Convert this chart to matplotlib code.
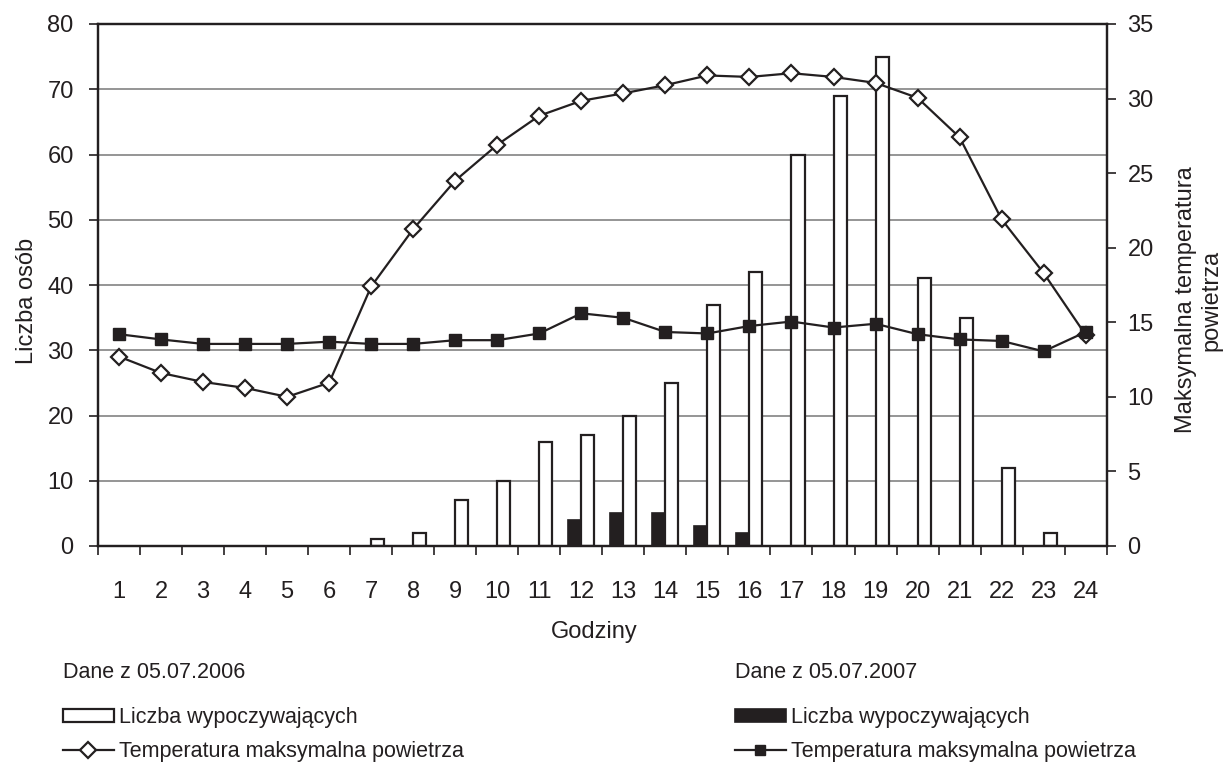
import numpy as np
import matplotlib
matplotlib.use("Agg")
import matplotlib.pyplot as plt
from matplotlib.patches import Patch
from matplotlib.lines import Line2D

plt.rcParams['font.family'] = ['Liberation Sans', 'DejaVu Sans']

hours = list(range(1, 25))
# liczba wypoczywajacych (lewa os)
people_2006 = [0, 0, 0, 0, 0, 0, 1, 2, 7, 10, 16, 17, 20, 25, 37, 42, 60, 69, 75, 41, 35, 12, 2, 0]
people_2007 = [0, 0, 0, 0, 0, 0, 0, 0, 0, 0, 0, 4, 5, 5, 3, 2, 0, 0, 0, 0, 0, 0, 0, 0]
# temperatura maksymalna (prawa os)
temp_2006 = [12.7, 11.6, 11.0, 10.6, 10.0, 10.95, 17.4, 21.25, 24.5, 26.9, 28.85, 29.85,
             30.35, 30.9, 31.55, 31.45, 31.7, 31.45, 31.05, 30.05, 27.4, 21.9, 18.3, 14.15]
temp_2007 = [14.2, 13.85, 13.55, 13.55, 13.55, 13.7, 13.55, 13.55, 13.8, 13.8, 14.25, 15.6,
             15.3, 14.35, 14.25, 14.75, 15.05, 14.65, 14.9, 14.2, 13.85, 13.75, 13.05, 14.35]

left_ticks = [0, 10, 20, 30, 40, 50, 60, 70, 80]
right_ticks = [0, 5, 10, 15, 20, 25, 30, 35]

dark = '#231f20'
fs = 17

fig = plt.figure(figsize=(12.27, 7.67), dpi=100)
ax = fig.add_axes([98/1227, 1 - 546/767, (1106.7 - 98)/1227, (546 - 24)/767])

x = np.array(hours)
w = 0.31
# zero values are not drawn (no bar in the original)
p06 = np.array(people_2006, dtype=float)
p07 = np.array(people_2007, dtype=float)
p06[p06 == 0] = np.nan
p07[p07 == 0] = np.nan
ax.bar(x - w/2, p07, width=w, color=dark, edgecolor=dark, linewidth=1.2, zorder=2)
ax.bar(x + w/2, p06, width=w, color='white', edgecolor=dark, linewidth=1.6, zorder=2)

ax.set_xlim(0.5, 24.5)
ax.set_ylim(0, 80)
ax.set_yticks(left_ticks)
ax.yaxis.grid(True, color='#8c8c8c', linewidth=1.3)
ax.set_axisbelow(True)
ax.set_xticks(hours)
ax.set_xticks(np.arange(0.5, 25, 1), minor=True)
ax.tick_params(axis='x', which='major', length=0, pad=25, labelsize=fs, colors=dark)
ax.tick_params(axis='x', which='minor', length=6.5, width=1.2, color=dark)
ax.tick_params(axis='y', length=6.5, width=1.2, pad=11, labelsize=fs, colors=dark)
for s in ax.spines.values():
    s.set_linewidth(1.6)
    s.set_color(dark)

ax2 = ax.twinx()
ax2.plot(x, temp_2006, color=dark, linewidth=1.6, marker='D', markersize=8.5,
         markerfacecolor='white', markeredgecolor=dark, markeredgewidth=1.6, zorder=3)
ax2.plot(x, temp_2007, color=dark, linewidth=1.6, marker='s', markersize=8.5,
         markerfacecolor=dark, markeredgecolor=dark, zorder=4)
ax2.set_ylim(0, 35)
ax2.set_yticks(right_ticks)
ax2.tick_params(axis='y', length=6.5, width=1.2, pad=8.5, labelsize=fs, colors=dark)
for s in ax2.spines.values():
    s.set_linewidth(1.6)
    s.set_color(dark)

fig.text(27/1227, 1 - 301/767, 'Liczba osób', rotation=90, ha='center', va='center',
         fontsize=fs, color=dark)
fig.text(1199/1227, 1 - 300/767, 'Maksymalna temperatura\npowietrza', rotation=90,
         ha='center', va='center', multialignment='center', fontsize=fs, color=dark)
fig.text(594/1227, 1 - 632/767, 'Godziny', ha='center', va='center', fontsize=fs, color=dark)

# legenda
lfs = 15.5
fig.text(63/1227, 1 - 672/767, 'Dane z 05.07.2006', ha='left', va='center',
         fontsize=lfs, color=dark)
fig.text(735/1227, 1 - 672/767, 'Dane z 05.07.2007', ha='left', va='center',
         fontsize=lfs, color=dark)

h06 = [Patch(facecolor='white', edgecolor=dark, linewidth=1.6),
       Line2D([], [], color=dark, linewidth=1.6, marker='D', markersize=8.5,
              markerfacecolor='white', markeredgecolor=dark, markeredgewidth=1.6)]
h07 = [Patch(facecolor=dark, edgecolor=dark, linewidth=1.2),
       Line2D([], [], color=dark, linewidth=1.6, marker='s', markersize=7,
              markerfacecolor=dark, markeredgecolor=dark)]
labels = ['Liczba wypoczywających', 'Temperatura maksymalna powietrza']
for hs, x0 in [(h06, 63), (h07, 735)]:
    fig.legend(hs, labels, loc='upper left', bbox_to_anchor=(x0/1227, 1 - 707/767),
               frameon=False, borderpad=0, borderaxespad=0, handlelength=2.35,
               handleheight=0.55, handletextpad=0.25, labelspacing=0.6, numpoints=1,
               prop={'size': lfs}, labelcolor=dark)

fig.savefig('out.png', dpi=100)
